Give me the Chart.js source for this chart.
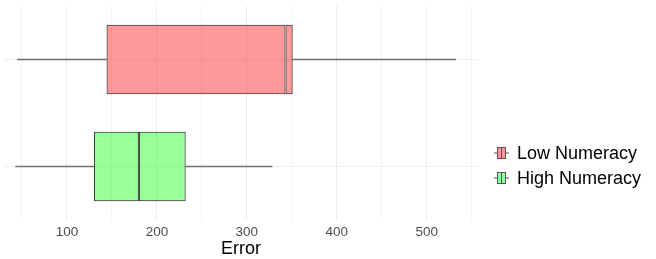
<!DOCTYPE html>
<html>
<head>
<meta charset="utf-8">
<script src="https://cdn.jsdelivr.net/npm/chart.js@4.4.1/dist/chart.umd.min.js"></script>
<style>
  html, body { margin: 0; padding: 0; background: #fff; }
  #wrap { position: relative; width: 656px; height: 259px; }
  #legend { position: absolute; left: 494px; top: 140.5px; font-family: "Liberation Sans", Arial, sans-serif; font-size: 18px; color: #000; }
  .item { display: flex; align-items: center; height: 25px; }
  .item svg { margin-right: 8px; }
</style>
</head>
<body>
<div id="wrap">
  <canvas id="c" width="656" height="259"></canvas>
  <div id="legend"></div>
</div>
<script>
// ---- data ----
const categories = ['Low Numeracy', 'High Numeracy'];
const whiskerMin = [45, 43];
const q1 = [144, 130];
const median = [343, 180];
const q3 = [351, 232];
const whiskerMax = [532, 328];
const tickValues = [50, 100, 150, 200, 250, 300, 350, 400, 450, 500, 550];
const tickLabels = [100, 200, 300, 400, 500];

const fills = ['rgba(255,0,0,0.4)', 'rgba(0,255,0,0.4)'];
const boxBorder = '#333333';
const whiskerColor = '#707070';

const pairs = (a, b) => a.map((v, i) => [v, b[i]]);

const chart = new Chart(document.getElementById('c'), {
  type: 'bar',
  data: {
    labels: categories,
    datasets: [
      { label: 'lower', data: pairs(q1, median), backgroundColor: fills, borderColor: boxBorder,
        borderWidth: 1, borderSkipped: false, grouped: false, barPercentage: 0.65, categoryPercentage: 1, order: 1 },
      { label: 'upper', data: pairs(median, q3), backgroundColor: fills, borderColor: boxBorder,
        borderWidth: 1, borderSkipped: false, grouped: false, barPercentage: 0.65, categoryPercentage: 1, order: 2 },
      { label: 'whiskerLow', data: pairs(whiskerMin, q1), backgroundColor: whiskerColor,
        borderWidth: 0, grouped: false, barThickness: 1, order: 3 },
      { label: 'whiskerHigh', data: pairs(q3, whiskerMax), backgroundColor: whiskerColor,
        borderWidth: 0, grouped: false, barThickness: 1, order: 4 }
    ]
  },
  options: {
    indexAxis: 'y',
    responsive: false,
    animation: false,
    events: [],
    layout: { padding: { left: 4, right: 178, top: 6, bottom: 1 } },
    plugins: { legend: { display: false }, tooltip: { enabled: false } },
    scales: {
      x: {
        type: 'linear',
        min: 30,
        max: 557,
        afterBuildTicks: (s) => { s.ticks = tickValues.map(v => ({ value: v })); },
        ticks: {
          autoSkip: false,
          maxRotation: 0,
          padding: 6,
          color: '#4d4d4d',
          font: { family: '"Liberation Sans", Arial, sans-serif', size: 13.5, lineHeight: 1 },
          callback: (v) => tickLabels.includes(v) ? String(v) : ''
        },
        grid: {
          drawTicks: false,
          color: (ctx) => (ctx.tick && tickLabels.includes(ctx.tick.value)) ? '#EBEBEB' : '#F4F4F4',
          lineWidth: 1
        },
        border: { display: false },
        title: {
          display: true,
          text: 'Error',
          color: '#000',
          padding: { top: -5.5, bottom: 0 },
          font: { family: '"Liberation Sans", Arial, sans-serif', size: 18, lineHeight: 1 }
        }
      },
      y: {
        type: 'category',
        offset: true,
        ticks: { display: false },
        grid: { offset: false, drawTicks: false, color: '#EFEFEF', lineWidth: 1 },
        border: { display: false }
      }
    }
  }
});

// legend
const legend = document.getElementById('legend');
categories.forEach((name, i) => {
  const d = document.createElement('div');
  d.className = 'item';
  d.innerHTML = '<svg width="15" height="12" viewBox="0 0 15 12">' +
    '<line x1="0" y1="6" x2="15" y2="6" stroke="#555" stroke-width="1"/>' +
    '<rect x="3.5" y="0.5" width="8" height="11" fill="' + (i === 0 ? '#FF9999' : '#99FF99') + '" stroke="#555" stroke-width="1"/>' +
    '<line x1="7.5" y1="0.5" x2="7.5" y2="11.5" stroke="#555" stroke-width="1"/></svg>';
  const t = document.createElement('span');
  t.textContent = name;
  d.appendChild(t);
  legend.appendChild(d);
});
</script>
</body>
</html>
